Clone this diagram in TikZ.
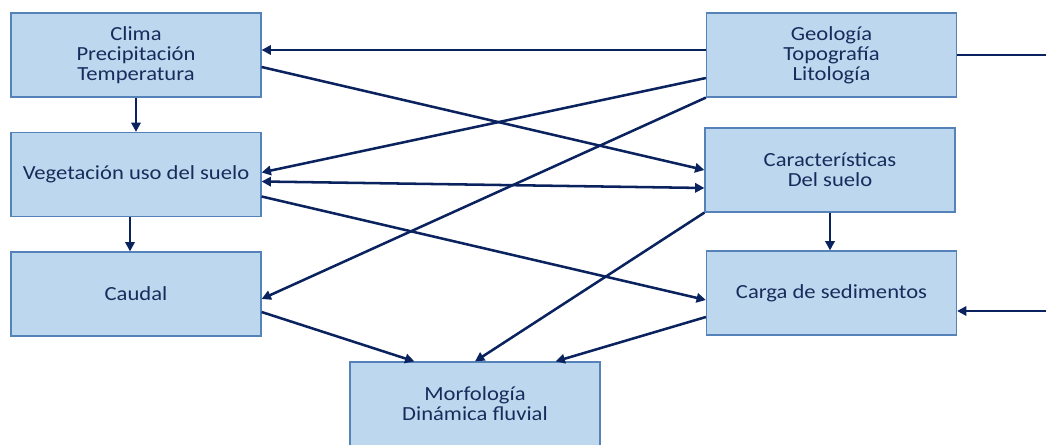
\documentclass[tikz,border=0pt]{standalone}
\usepackage{fontspec}
\setmainfont{Carlito}[FakeStretch=1.13]
\usepackage{xcolor}
\usetikzlibrary{arrows.meta,calc}
\definecolor{boxfill}{RGB}{189,215,238}
\definecolor{boxline}{RGB}{84,130,185}
\definecolor{navy}{RGB}{10,34,94}
\definecolor{boxtext}{RGB}{24,44,92}

\begin{document}
\begin{tikzpicture}[
  x=0.75pt,y=-0.75pt,
  factor/.style={draw=boxline,line width=0.9pt,fill=boxfill,text=boxtext,
    minimum width=187.5pt,minimum height=63pt,align=center,inner sep=2pt,
    font=\fontsize{15}{15}\selectfont},
  link/.style={draw=navy,line width=1.9pt,-{Triangle[length=7pt,width=7pt]}},
  plain/.style={draw=navy,line width=1.9pt}
]
\useasboundingbox (0,0) rectangle (1046,445);
\node[factor] (clima) at (136,55) {Clima\\Precipitación\\Temperatura};
\node[factor] (geo) at (831.5,55) {Geología\\Topografía\\Litología};
\node[factor] (veg) at (136,174.5) {Vegetación uso del suelo};
\node[factor] (suelo) at (830,170) {Características\\Del suelo};
\node[factor] (caudal) at (136,294) {Caudal};
\node[factor] (carga) at (831.5,293) {Carga de sedimentos};
\node[factor] (morfo) at (475,404) {Morfología\\Dinámica fluvial};
\coordinate (geoout) at (1046,55);
\coordinate (cargain) at (1046,311);

% vertical links
\draw[link] (clima.south) -- (veg.north);
\draw[link] ($(veg.south)+(-6,0)$) -- ($(caudal.north)+(-6,0)$);
\draw[link] (suelo.south) -- (suelo.south |- carga.north);

% cross links
\draw[link] ($(geo.west)+(0,-5)$) -- ($(clima.east)+(0,-5)$);
\draw[link] ($(clima.east)+(0,12)$) -- (suelo.west);
\draw[link] ($(geo.west)+(0,23)$) -- ($(veg.east)+(0,-2)$);
\draw[link] (geo.south west) -- ($(caudal.east)+(0,5)$);
\draw[link,{Triangle[length=7pt,width=7pt]}-{Triangle[length=7pt,width=7pt]}]
  ($(veg.east)+(0,7)$) -- ($(suelo.west)+(0,18)$);
\draw[link] ($(veg.east)+(0,22)$) -- ($(carga.west)+(0,7)$);

% into morfologia
\draw[link] (suelo.south west) -- (morfo.north);
\draw[link] ($(caudal.east)+(0,18)$) -- ($(morfo.north west)+(65,0)$);
\draw[link] ($(carga.west)+(0,24)$) -- ($(morfo.north east)+(-45,0)$);

% outside
\draw[plain] (geo.east) -- (geoout);
\draw[link] (cargain) -- ($(carga.east)+(0,18)$);
\end{tikzpicture}
\end{document}
